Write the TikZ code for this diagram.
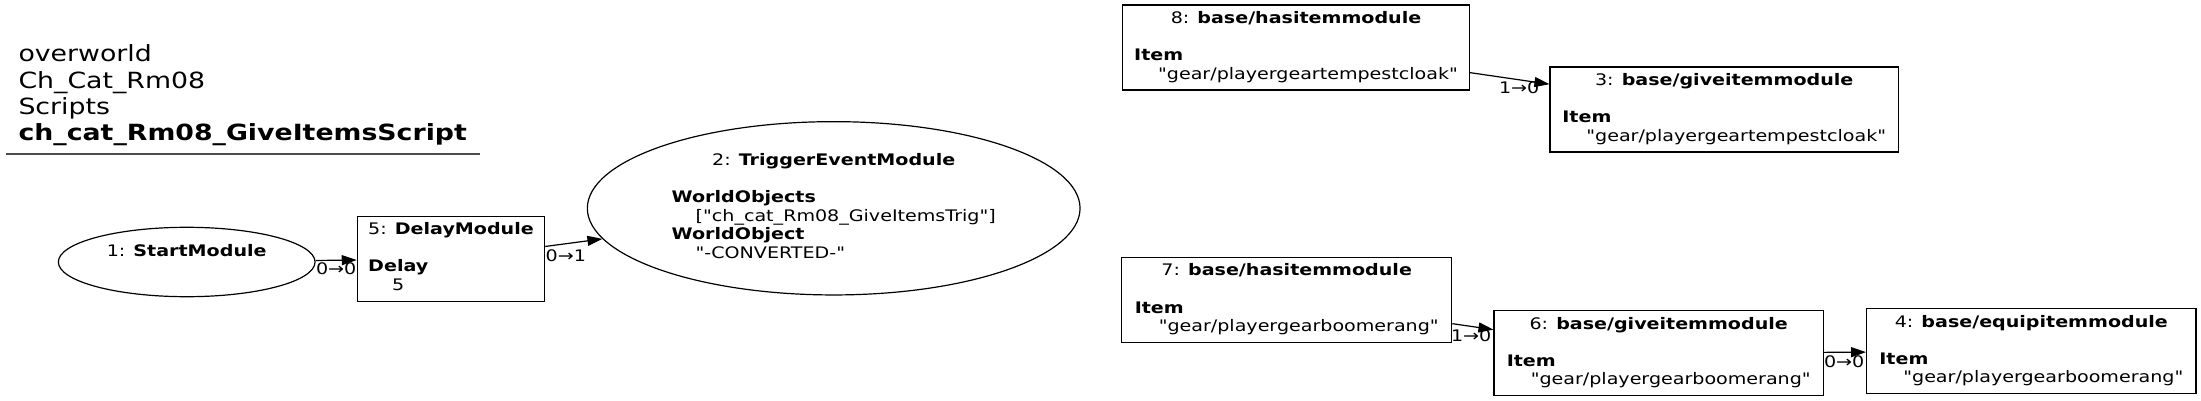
\documentclass[tikz,border=0pt]{standalone}
\usepackage{fontspec}
\setmainfont{DejaVu Sans}[FakeStretch=1.2,Ligatures=TeXOff]
\usepackage{tikz}
\usetikzlibrary{arrows.meta,shapes.geometric}

\begin{document}
\begin{tikzpicture}[
  x=1pt, y=-1pt,
  module/.style={draw,line width=1.2pt,inner sep=0pt,minimum height=85pt,
                 font=\fontsize{15.9}{18.6}\selectfont},
  eventmodule/.style={ellipse,draw,line width=1.2pt,inner sep=0pt,
                      font=\fontsize{15.9}{18.6}\selectfont},
  header/.style={anchor=north west,inner sep=0pt,
                 font=\fontsize{22.3}{26.3}\selectfont},
  headerrule/.style={line width=2pt,black!70},
  flow/.style={-{Triangle[length=15pt,width=10pt]},line width=1.2pt},
  port/.style={anchor=base,inner sep=0pt,font=\fontsize{15.9}{18.6}\selectfont}
]
\fill[white] (0,0) rectangle (2201,401);
\useasboundingbox (0,0) rectangle (2201,401);

\node[header] (title) at (18.3,43.3) {\begin{tabular}{@{}l@{}}overworld\\Ch\_Cat\_Rm08\\Scripts\\\textbf{ch\_cat\_Rm08\_GiveItemsScript}\end{tabular}};
\draw[headerrule] (6,154) -- (480,154);

\node[eventmodule, minimum width=256.7pt, minimum height=69.4pt] (start) at (186.7,262)
  {\begin{tabular}{@{}c@{}}1: \textbf{StartModule}\\ \\\end{tabular}};
\node[module, minimum width=187.3pt] (delay) at (451,258.9)
  {\begin{tabular}{@{}l@{}}\multicolumn{1}{@{}c@{}}{5: \textbf{DelayModule}}\\ \\ \textbf{Delay}\\ \hspace*{24pt}5\end{tabular}};
\node[eventmodule, minimum width=492.7pt, minimum height=173.3pt] (trigger) at (833.7,208.3)
  {\begin{tabular}{@{}l@{}}\multicolumn{1}{@{}c@{}}{2: \textbf{TriggerEventModule}}\\ \\ \textbf{WorldObjects}\\ \hspace*{24pt}["ch\_cat\_Rm08\_GiveItemsTrig"]\\ \textbf{WorldObject}\\ \hspace*{24pt}"-CONVERTED-"\end{tabular}};

\node[module, minimum width=346.6pt] (hascloak) at (1296,47.5)
  {\begin{tabular}{@{}l@{}}\multicolumn{1}{@{}c@{}}{8: \textbf{base/hasitemmodule}}\\ \\ \textbf{Item}\\ \hspace*{24pt}"gear/playergeartempestcloak"\end{tabular}};
\node[module, minimum width=348.3pt] (givecloak) at (1724.2,109.5)
  {\begin{tabular}{@{}l@{}}\multicolumn{1}{@{}c@{}}{3: \textbf{base/giveitemmodule}}\\ \\ \textbf{Item}\\ \hspace*{24pt}"gear/playergeartempestcloak"\end{tabular}};
\node[module, minimum width=330pt] (hasboomerang) at (1286.7,300)
  {\begin{tabular}{@{}l@{}}\multicolumn{1}{@{}c@{}}{7: \textbf{base/hasitemmodule}}\\ \\ \textbf{Item}\\ \hspace*{24pt}"gear/playergearboomerang"\end{tabular}};
\node[module, minimum width=329.3pt] (giveboomerang) at (1658.7,353.3)
  {\begin{tabular}{@{}l@{}}\multicolumn{1}{@{}c@{}}{6: \textbf{base/giveitemmodule}}\\ \\ \textbf{Item}\\ \hspace*{24pt}"gear/playergearboomerang"\end{tabular}};
\node[module, minimum width=329.3pt] (equipboomerang) at (2031.3,351.2)
  {\begin{tabular}{@{}l@{}}\multicolumn{1}{@{}c@{}}{4: \textbf{base/equipitemmodule}}\\ \\ \textbf{Item}\\ \hspace*{24pt}"gear/playergearboomerang"\end{tabular}};

\draw[flow] (start) -- node[port, pos=.5, yshift=-14.6pt] (startport) {0→0} (delay);
\draw[flow] (delay) -- node[port, pos=.36, yshift=-17.6pt] (delayport) {0→1} (trigger);
\draw[flow] (hascloak) -- node[port, pos=.62, yshift=-13.5pt] (cloakport) {1→0} (givecloak);
\draw[flow] (hasboomerang) -- node[port, pos=.46, yshift=-15.3pt] (boomerangport) {1→0} (giveboomerang);
\draw[flow] (giveboomerang) -- node[port, pos=.48, yshift=-14.9pt] (equipport) {0→0} (equipboomerang);
\end{tikzpicture}
\end{document}
